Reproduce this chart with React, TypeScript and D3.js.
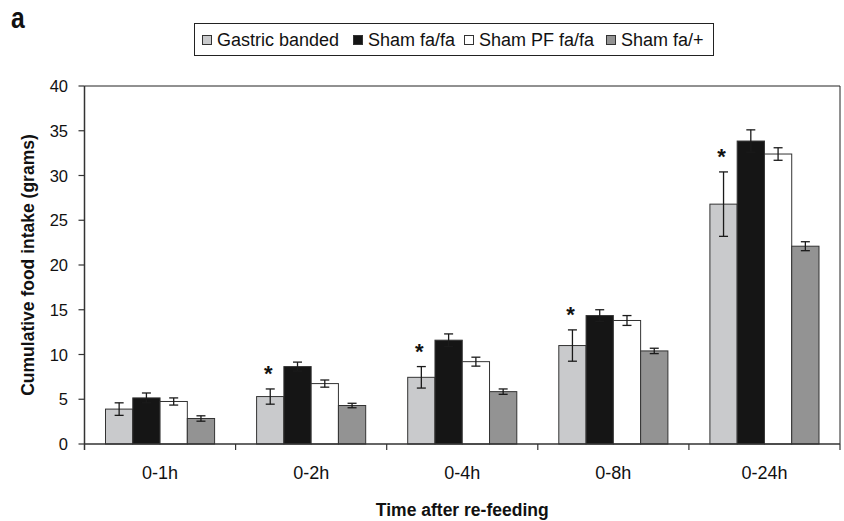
import React from "react";
import * as d3 from "d3";

const categories = ["0-1h", "0-2h", "0-4h", "0-8h", "0-24h"];
const seriesNames = ["Gastric banded", "Sham fa/fa", "Sham PF fa/fa", "Sham fa/+"];
const seriesColors = ["#c9cacc", "#151515", "#ffffff", "#939393"];

const gastricBanded = [3.9, 5.3, 7.45, 11.0, 26.8];
const shamFaFa = [5.15, 8.65, 11.6, 14.35, 33.85];
const shamPfFaFa = [4.75, 6.75, 9.2, 13.8, 32.4];
const shamFaPlus = [2.85, 4.3, 5.85, 10.4, 22.1];

const gastricErr = [0.7, 0.85, 1.2, 1.75, 3.6];
const shamFaFaErr = [0.55, 0.5, 0.7, 0.65, 1.25];
const shamPfErr = [0.4, 0.4, 0.5, 0.55, 0.7];
const shamPlusErr = [0.3, 0.25, 0.3, 0.3, 0.5];

const starred = [false, true, true, true, true];
const yTicks = [0, 5, 10, 15, 20, 25, 30, 35, 40];

const values = [gastricBanded, shamFaFa, shamPfFaFa, shamFaPlus];
const errors = [gastricErr, shamFaFaErr, shamPfErr, shamPlusErr];

const W = 844;
const H = 521;
const margin = { top: 86, right: 4, bottom: 77, left: 84.5 };
const font = "'Liberation Sans', Arial, sans-serif";

export default function App() {
  const x = d3
    .scaleBand()
    .domain(categories)
    .range([margin.left, W - margin.right]);

  const inner = d3
    .scaleBand()
    .domain(seriesNames)
    .range([0, x.bandwidth()])
    .paddingOuter(0.77)
    .paddingInner(0);

  const y = d3
    .scaleLinear()
    .domain([0, 40])
    .range([H - margin.bottom, margin.top]);

  const bw = inner.bandwidth();
  const plotRight = W - margin.right;
  const plotMid = (margin.left + plotRight) / 2;

  // legend key positions
  const legendKeys = [202, 353, 464, 606];

  return (
    <div style={{ position: "absolute", left: 0, top: 0 }}>
      <svg width={W} height={H} style={{ display: "block", background: "#fff" }} fontFamily={font}>
        <text transform="translate(11,28) scale(0.85,1)" fontSize={29} fontWeight="bold" fill="#111">
          a
        </text>

        {/* legend */}
        <rect x={194.5} y={23.5} width={519} height={32} fill="#fff" stroke="#222" strokeWidth={1} />
        {seriesNames.map((name, i) => (
          <g key={name}>
            <rect
              x={legendKeys[i] + 0.5}
              y={35.5}
              width={9}
              height={9}
              fill={seriesColors[i]}
              stroke="#333"
              strokeWidth={1}
            />
            <text x={legendKeys[i] + 15} y={46} fontSize={18} fill="#111">
              {name}
            </text>
          </g>
        ))}

        {/* plot frame top and right */}
        <line x1={margin.left} x2={plotRight} y1={y(40)} y2={y(40)} stroke="#222" strokeWidth={1} />
        <line x1={plotRight} x2={plotRight} y1={y(40)} y2={y(0)} stroke="#222" strokeWidth={1} />

        {/* bars */}
        {categories.map((c, ci) => (
          <g key={c}>
            {seriesNames.map((s, si) => {
              const v = values[si][ci];
              const bx = (x(c) as number) + (inner(s) as number);
              return (
                <rect
                  key={s}
                  x={bx}
                  y={y(v)}
                  width={bw}
                  height={y(0) - y(v)}
                  fill={seriesColors[si]}
                  stroke="#333"
                  strokeWidth={1}
                />
              );
            })}
            {seriesNames.map((s, si) => {
              const v = values[si][ci];
              const e = errors[si][ci];
              const cx = (x(c) as number) + (inner(s) as number) + bw / 2;
              return (
                <g key={s + "e"} stroke="#1a1a1a" strokeWidth={1.3}>
                  <line x1={cx} x2={cx} y1={y(v + e)} y2={y(v - e)} />
                  <line x1={cx - 4.5} x2={cx + 4.5} y1={y(v + e)} y2={y(v + e)} />
                  <line x1={cx - 4.5} x2={cx + 4.5} y1={y(v - e)} y2={y(v - e)} />
                </g>
              );
            })}
            {starred[ci] && (
              <text
                x={(x(c) as number) + (inner(seriesNames[0]) as number) + bw / 2 - 2}
                y={y(gastricBanded[ci] + gastricErr[ci]) - 8}
                fontSize={22}
                fontWeight="bold"
                textAnchor="middle"
                fill="#111"
              >
                *
              </text>
            )}
          </g>
        ))}

        {/* y axis */}
        <line x1={margin.left} x2={margin.left} y1={y(40)} y2={y(0) + 6} stroke="#333" strokeWidth={1.5} />
        {yTicks.map((t) => (
          <g key={t}>
            <line x1={margin.left - 6} x2={margin.left} y1={y(t)} y2={y(t)} stroke="#333" strokeWidth={1.2} />
            <text x={68} y={y(t) + 6} fontSize={16.5} textAnchor="end" fill="#111">
              {t}
            </text>
          </g>
        ))}

        {/* x axis */}
        <line x1={margin.left} x2={plotRight} y1={y(0)} y2={y(0)} stroke="#333" strokeWidth={1.3} />
        {categories.map((c) => (
          <g key={c}>
            <line
              x1={(x(c) as number) + x.bandwidth()}
              x2={(x(c) as number) + x.bandwidth()}
              y1={y(0)}
              y2={y(0) + 6}
              stroke="#333"
              strokeWidth={1.2}
            />
            <text
              x={(x(c) as number) + x.bandwidth() / 2}
              y={479}
              fontSize={18}
              textAnchor="middle"
              fill="#111"
            >
              {c}
            </text>
          </g>
        ))}

        <text x={plotMid} y={516} fontSize={17.5} fontWeight="bold" textAnchor="middle" fill="#111">
          Time after re-feeding
        </text>
        <text
          transform={`translate(33.5,${(y(40) + y(0)) / 2}) rotate(-90)`}
          fontSize={17.5}
          fontWeight="bold"
          textAnchor="middle"
          fill="#111"
        >
          Cumulative food intake (grams)
        </text>
      </svg>
    </div>
  );
}
